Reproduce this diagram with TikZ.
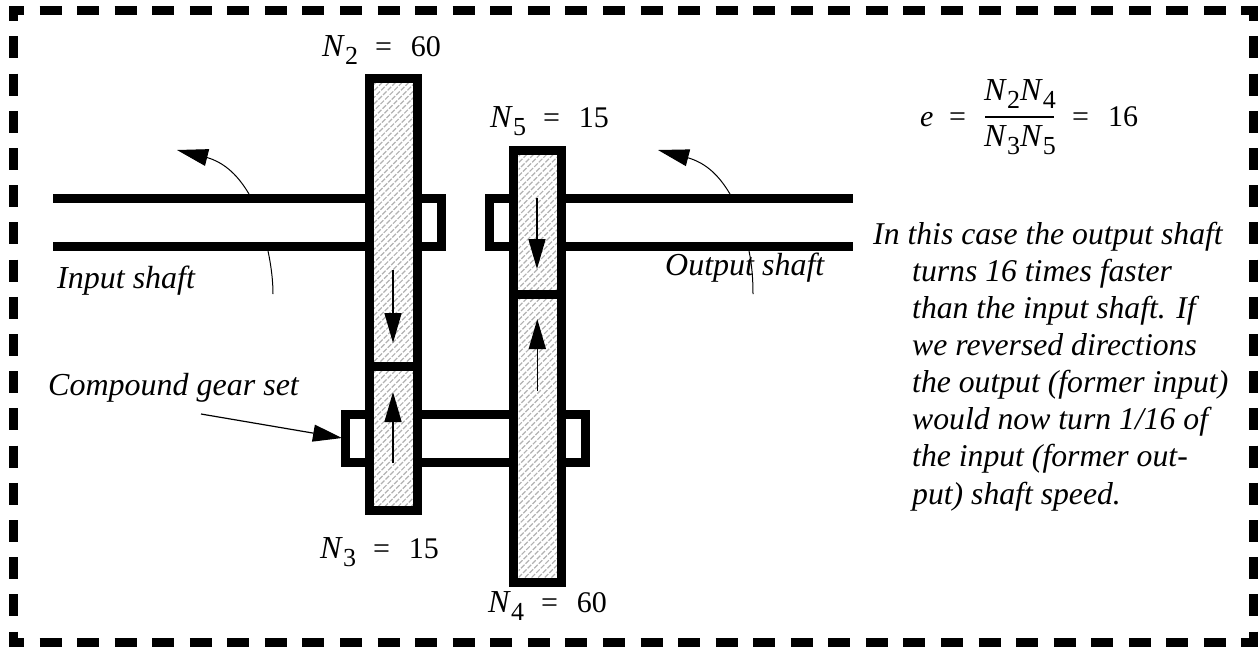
\documentclass[tikz,border=0pt]{standalone}
\usepackage{fontspec}
\setmainfont{Liberation Serif}
\usetikzlibrary{arrows.meta}
\newcommand{\Nsb}[1]{{\fontsize{32}{37}\selectfont\textit{N}}\raisebox{-0.27em}{\fontsize{26}{26}\selectfont #1}}
\newcommand{\eqgap}{\hspace{17pt}=\hspace{19pt}}
\newcommand{\hatchfill}[4]{%
  \begin{scope}
    \clip (#1,#2) rectangle (#3,#4);
    \foreach \k in {0,...,100}{
      \draw[hatchline] ({#1-2+\k*6.6},{#2-10}) -- ++(-400,400);
    }
  \end{scope}}
\tikzset{
  x=1pt,y=-1pt,
  heavy/.style={line width=9pt,line cap=butt,line join=miter,miter limit=10},
  hatchline/.style={line width=1.2pt,gray!60,dash pattern=on 5pt off 1.5pt},
  borderh/.style={line width=9pt,dash pattern=on 22pt off 15.56pt,dash phase=7pt},
  borderv/.style={line width=9pt,dash pattern=on 22pt off 15.2pt,dash phase=6.8pt},
  thinarrow/.style={line width=1.5pt,-{Triangle[length=30pt,width=17pt]}},
  curvearrow/.style={line width=1pt,-{Triangle[length=31pt,width=17pt]}},
  leader/.style={line width=1pt},
  label/.style={inner sep=0pt,anchor=base west,font=\fontsize{30}{37}\selectfont},
  itlabel/.style={label,font=\fontsize{32}{37}\selectfont\itshape},
  para/.style={inner sep=0pt,anchor=north west,align=left,font=\fontsize{31.7}{37.14}\selectfont\itshape},
}
\begin{document}
\begin{tikzpicture}
\useasboundingbox (0,0) rectangle (1258,646);
% dashed frame
\coordinate (tl) at (9,10.5);
\coordinate (tr) at (1258,10.5);
\coordinate (bl) at (9,642);
\coordinate (br) at (1258,642);
\coordinate (lt) at (13.5,6);
\coordinate (lb) at (13.5,646);
\coordinate (rt) at (1253.5,6);
\coordinate (rb) at (1253.5,646);
\draw[borderh] (tl) -- (tr);
\draw[borderh] (bl) -- (br);
\draw[borderv] (lt) -- (lb);
\draw[borderv] (rt) -- (rb);
% hatching
\hatchfill{374}{83}{413}{362}
\hatchfill{374}{371}{413}{505.5}
\hatchfill{518.5}{155}{557}{290}
\hatchfill{518.5}{299}{557}{577.5}
% shafts
\coordinate (g2tl) at (369.5,78.5);
\coordinate (g2br) at (417.5,366.5);
\coordinate (g3br) at (417.5,510);
\coordinate (g5tl) at (513.8,150.5);
\coordinate (g5br) at (561.8,294.5);
\coordinate (g4br) at (561.8,582);
\draw[heavy] (53,198.5) -- (369,198.5);
\draw[heavy] (53,246.5) -- (369,246.5);
\draw[heavy] (417.5,198.5) -- (441.5,198.5) -- (441.5,246.5) -- (417.5,246.5);
\draw[heavy] (513.8,198.5) -- (489.5,198.5) -- (489.5,246.5) -- (513.8,246.5);
\draw[heavy] (561.8,198.5) -- (853,198.5);
\draw[heavy] (561.8,246.5) -- (853,246.5);
\draw[heavy] (369.5,414.5) -- (345.5,414.5) -- (345.5,462.5) -- (369.5,462.5);
\draw[heavy] (417.5,414.5) -- (513.8,414.5);
\draw[heavy] (417.5,462.5) -- (513.8,462.5);
\draw[heavy] (561.8,414.5) -- (585.5,414.5) -- (585.5,462.5) -- (561.8,462.5);
% gears
\draw[heavy] (g2tl) rectangle (g2br);
\draw[heavy] (369.5,366.5) rectangle (g3br);
\draw[heavy] (g5tl) rectangle (g5br);
\draw[heavy] (513.8,294.5) rectangle (g4br);
% arrows inside gears
\coordinate (a2s) at (393,270); \coordinate (a2e) at (393,343);
\coordinate (a3s) at (393,463); \coordinate (a3e) at (393,392);
\coordinate (a5s) at (537,198); \coordinate (a5e) at (537,269);
\coordinate (a4s) at (537.3,391); \coordinate (a4e) at (537.3,319);
\draw[thinarrow] (a2s) -- (a2e);
\draw[thinarrow] (a3s) -- (a3e);
\draw[thinarrow] (a5s) -- (a5e);
\draw[thinarrow] (a4s) -- (a4e);
% rotation arrows
\coordinate (r1s) at (249,194); \coordinate (r1m) at (207,157.5); \coordinate (r1e) at (177,150);
\coordinate (r2s) at (730,194); \coordinate (r2m) at (687,157.5); \coordinate (r2e) at (658,150);
\draw[curvearrow] (r1s) .. controls (236,172) and (222,162) .. (r1m) -- (r1e);
\draw[curvearrow] (r2s) .. controls (717,172) and (703,162) .. (r2m) -- (r2e);
% leaders
\coordinate (l1s) at (268,251); \coordinate (l1e) at (273,294);
\coordinate (l2s) at (749,251); \coordinate (l2e) at (753,294);
\draw[leader] (l1s) .. controls (271,265) and (273,280) .. (l1e);
\draw[leader] (l2s) .. controls (752,265) and (753,280) .. (l2e);
\coordinate (c1s) at (201,414); \coordinate (c1e) at (342,438);
\draw[line width=1.2pt,-{Triangle[length=29pt,width=17pt]}] (c1s) -- (c1e);
% labels
\node[label] (n2) at (322,56) {\Nsb{2}\eqgap 60};
\node[label] (n5) at (490,127) {\Nsb{5}\eqgap 15};
\node[label] (n3) at (320,558) {\Nsb{3}\eqgap 15};
\node[label] (n4) at (488,612) {\Nsb{4}\eqgap 60};
\node[itlabel] (inp) at (57,288) {Input shaft};
\node[itlabel] (outp) at (665,275) {Output shaft};
\node[itlabel] (cgs) at (48,395) {Compound gear set};
% equation
\node[label] (ee) at (920,126.7) {\textit{e}};
\node[label] (eq1) at (949,126.7) {=};
\node[label] (num) at (984,100.7) {\Nsb{2}\Nsb{4}};
\node[label] (den) at (984,146.7) {\Nsb{3}\Nsb{5}};
\coordinate (fl) at (985,116.7); \coordinate (fr) at (1053.5,116.7);
\draw[line width=2pt] (fl) -- (fr);
\node[label] (eq2) at (1072,126.7) {=};
\node[label] (res) at (1108,126.7) {16};
% paragraph
\node[para] (txt) at (873,221.5) {In this case the output shaft\\
\hspace*{39pt}turns 16 times faster\\
\hspace*{39pt}than the input shaft. If\\
\hspace*{39pt}we reversed directions\\
\hspace*{39pt}the output (former input)\\
\hspace*{39pt}would now turn 1/16 of\\
\hspace*{39pt}the input (former out-\\
\hspace*{39pt}put) shaft speed.};
\end{tikzpicture}
\end{document}
